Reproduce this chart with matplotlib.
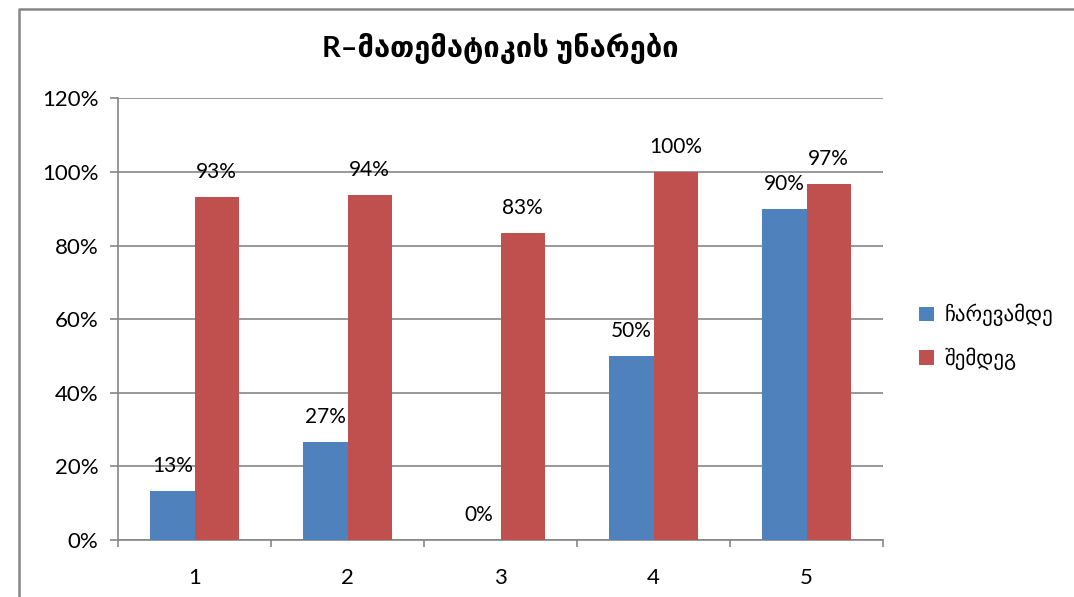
import matplotlib
matplotlib.use("Agg")
import matplotlib.pyplot as plt
import numpy as np
from matplotlib.lines import Line2D

plt.rcParams['font.family'] = ['Lato', 'DejaVu Sans']

categories = ['1', '2', '3', '4', '5']
before = [13.3, 26.7, 0.0, 50.0, 90.0]
after = [93.3, 93.8, 83.3, 100.0, 96.7]
before_labels = ['13%', '27%', '0%', '50%', '90%']
after_labels = ['93%', '94%', '83%', '100%', '97%']
series_names = ['ჩარევამდე', 'შემდეგ']
title = 'R–მათემატიკის უნარები'

blue = '#4F81BD'
red = '#C0504D'
grid_c = '#868686'

fig = plt.figure(figsize=(10.74, 5.97), dpi=100)
ax = fig.add_axes([0.1099, 0.0955, 0.7123, 0.7397])

x = np.arange(len(categories))
w = 0.288
b1 = ax.bar(x - w / 2, before, width=w, color=blue, label=series_names[0], zorder=3)
b2 = ax.bar(x + w / 2, after, width=w, color=red, label=series_names[1], zorder=3)

# value labels above the bars
for bars, labels in [(b1, before_labels), (b2, after_labels)]:
    for rect, lab in zip(bars, labels):
        ax.annotate(lab, (rect.get_x() + rect.get_width() / 2, rect.get_height()),
                    xytext=(0, 18), textcoords='offset points', ha='center', va='center',
                    fontsize=15, color='black')

ax.set_xlim(-0.5, len(categories) - 0.5)
ax.set_ylim(0, 120)
ax.set_yticks(np.arange(0, 121, 20))
ax.set_yticklabels([f'{v}%' for v in range(0, 121, 20)], fontsize=16)
ax.set_xticks(x)
ax.set_xticklabels(categories, fontsize=16)
ax.set_xticks(np.arange(-0.5, len(categories)), minor=True)
ax.tick_params(axis='x', which='major', length=0, pad=20)
ax.tick_params(axis='x', which='minor', length=5, color=grid_c, width=1.2)
ax.tick_params(axis='y', length=6, color=grid_c, width=1.2, pad=8)

ax.grid(axis='y', color=grid_c, linewidth=1.2, zorder=0)
for s in ['top', 'right']:
    ax.spines[s].set_visible(False)
for s in ['left', 'bottom']:
    ax.spines[s].set_color(grid_c)
    ax.spines[s].set_linewidth(1.2)

ax.set_title(title, fontsize=21, fontweight='bold', pad=30)

ax.legend(loc='center left', bbox_to_anchor=(1.023, 0.46), frameon=False,
          fontsize=15, handlelength=0.7, handleheight=0.7, handletextpad=0.5,
          labelspacing=1.0)

# chart area border (left and top edges visible)
fig.add_artist(Line2D([18.5 / 1074, 18.5 / 1074, 1.0], [0.0, 1 - 8.5 / 597, 1 - 8.5 / 597],
                      transform=fig.transFigure, color=grid_c, linewidth=1.8))

fig.savefig('out.png', dpi=100)
